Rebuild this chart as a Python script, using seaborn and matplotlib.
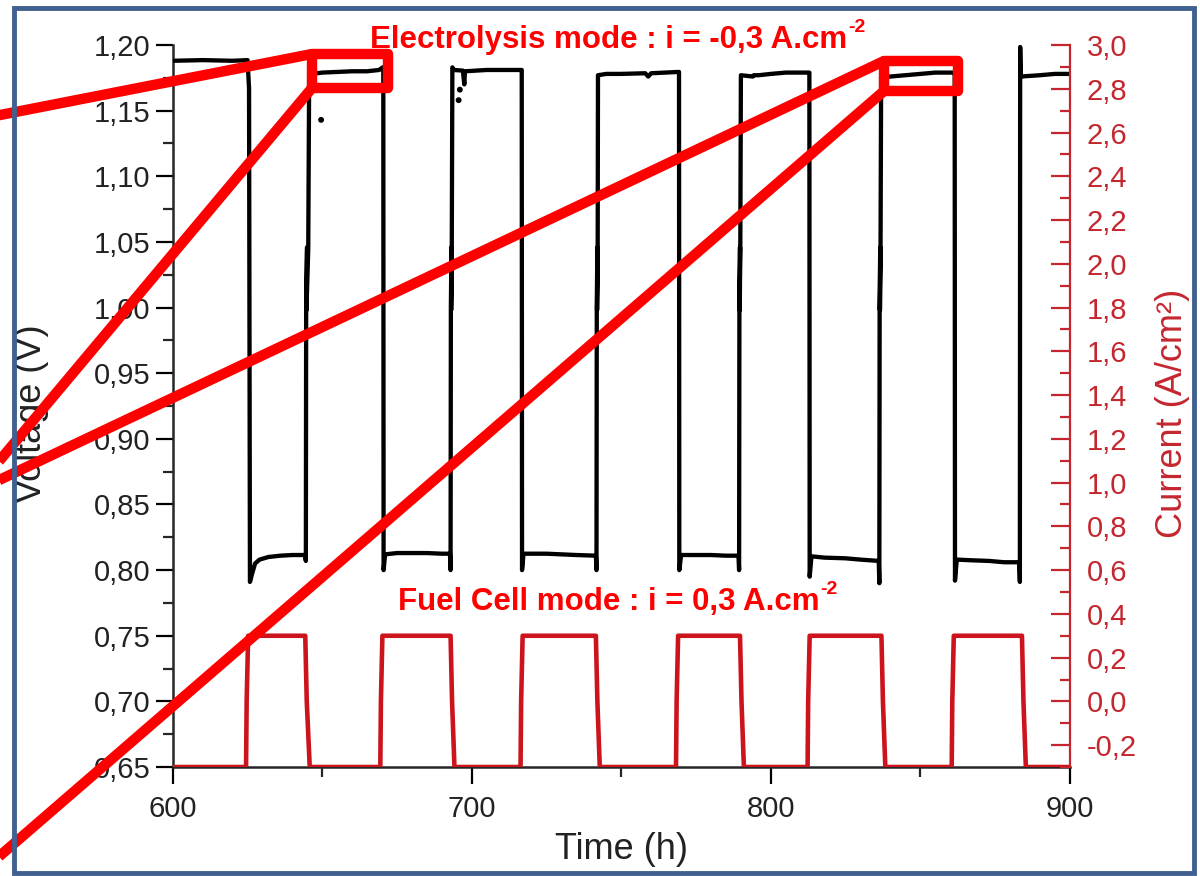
import numpy as np
import pandas as pd
import matplotlib
matplotlib.use("Agg")
import matplotlib.pyplot as plt
import seaborn as sns
from matplotlib.lines import Line2D
from matplotlib.patches import Rectangle
from matplotlib.ticker import FixedLocator, FuncFormatter

# ---------------- data ----------------
time_v = [600, 610, 620, 625.0,
          625.5, 625.8, 626.5, 627.5, 629, 632, 636, 640, 644.2, 644.5,
          644.6, 644.9, 644.7, 645.3,
          645.6, 646.5, 650, 655, 660, 665, 669, 670.2,
          670.4, 670.5, 671, 675, 680, 685, 690, 692.7, 692.9,
          693.0, 693.2, 693.1, 693.3,
          693.5, 694, 697, 697.5, 697.7, 705, 710, 716.5,
          716.7, 716.8, 717.3, 725, 735, 741.5, 741.7,
          741.8, 742.0, 741.9, 742.1,
          742.2, 745, 750, 758, 759, 760, 769.1,
          769.3, 769.4, 770, 775, 780, 785, 789.2, 789.4,
          789.5, 789.7, 789.6, 789.8,
          790, 794, 794.3, 796, 800, 805, 812.7,
          812.9, 813.0, 813.6, 818, 825, 830, 836.1, 836.3,
          836.4, 836.6, 836.5, 836.7,
          836.9, 840, 845, 850, 855, 861.3,
          861.5, 861.6, 862.2, 867, 873, 878, 883.1, 883.3,
          883.4, 883.6, 890, 895, 900]
volt = [1.188, 1.1885, 1.188, 1.1885,
        1.167, 0.791, 0.797, 0.805, 0.808, 0.810, 0.811, 0.8115, 0.8115, 0.807,
        1.000, 1.046, 0.998, 1.045,
        1.176, 1.178, 1.179, 1.1795, 1.180, 1.180, 1.181, 1.183,
        1.183, 0.800, 0.812, 0.813, 0.813, 0.813, 0.8125, 0.8125, 0.800,
        1.000, 1.046, 0.998, 1.045,
        1.183, 1.181, 1.1805, 1.170, 1.180, 1.181, 1.181, 1.181,
        1.181, 0.800, 0.8125, 0.8125, 0.8115, 0.811, 0.800,
        1.000, 1.046, 0.998, 1.045,
        1.177, 1.178, 1.178, 1.1785, 1.176, 1.1785, 1.1795,
        1.1795, 0.800, 0.8115, 0.8115, 0.8115, 0.811, 0.811, 0.800,
        1.000, 1.046, 0.998, 1.045,
        1.177, 1.176, 1.177, 1.177, 1.178, 1.179, 1.179,
        1.179, 0.795, 0.8105, 0.8095, 0.809, 0.808, 0.807, 0.790,
        1.000, 1.046, 0.998, 1.045,
        1.1755, 1.176, 1.177, 1.178, 1.179, 1.179,
        1.179, 0.792, 0.808, 0.8075, 0.807, 0.806, 0.806, 0.791,
        1.1985, 1.176, 1.177, 1.178, 1.178]

outlier_t = [649.6, 695.6, 696.0]
outlier_v = [1.143, 1.158, 1.166]

time_i = [600, 624.5, 624.7, 625.2, 644.3, 644.8, 645.8,
          669.4, 669.6, 670.1, 692.9, 693.4, 694.2,
          716.3, 716.5, 717.0, 741.5, 742.0, 742.8,
          768.3, 768.5, 769.0, 789.7, 790.2, 791.0,
          812.3, 812.5, 813.0, 837.0, 837.5, 838.3,
          860.5, 860.7, 861.2, 884.0, 884.5, 885.3, 900]
curr = [-0.3, -0.3, 0.0, 0.3, 0.3, 0.0, -0.3,
        -0.3, 0.0, 0.3, 0.3, 0.0, -0.3,
        -0.3, 0.0, 0.3, 0.3, 0.0, -0.3,
        -0.3, 0.0, 0.3, 0.3, 0.0, -0.3,
        -0.3, 0.0, 0.3, 0.3, 0.0, -0.3,
        -0.3, 0.0, 0.3, 0.3, 0.0, -0.3, -0.3]

volt_ticks = [0.65, 0.70, 0.75, 0.80, 0.85, 0.90, 0.95, 1.00, 1.05, 1.10, 1.15, 1.20]
curr_ticks = [-0.2, 0.0, 0.2, 0.4, 0.6, 0.8, 1.0, 1.2, 1.4, 1.6, 1.8, 2.0,
              2.2, 2.4, 2.6, 2.8, 3.0]
time_ticks = [600, 700, 800, 900]

title_ec = "Electrolysis mode : i = -0,3 A.cm"
title_fc = "Fuel Cell mode : i = 0,3 A.cm"
sup_txt = "-2"

# ---------------- style ----------------
sns.set_style("ticks")
plt.rcParams['font.family'] = ['Liberation Sans', 'DejaVu Sans']

RED_AX = '#c4262e'
RED_LINE = '#cc141c'
RED_ANN = '#ff0000'
FRAME = '#3f6090'

fig = plt.figure(figsize=(12, 8.76), dpi=100)
ax = fig.add_axes([0.144, 0.1244, 0.7475, 0.8242])
ax2 = ax.twinx()

dv = pd.DataFrame({'t': time_v, 'v': volt})
di = pd.DataFrame({'t': time_i, 'i': curr})

sns.lineplot(data=dv, x='t', y='v', ax=ax, color='black', lw=3.1,
             sort=False, estimator=None, zorder=3)
sns.scatterplot(x=outlier_t, y=outlier_v, ax=ax, color='black', s=18,
                edgecolor='none', zorder=3)
sns.lineplot(data=di, x='t', y='i', ax=ax2, color=RED_LINE, lw=3.3,
             sort=False, estimator=None, zorder=2)

ax.set_xlim(600, 900)
ax.set_ylim(0.65, 1.20)
ax2.set_ylim(-0.3, 3.0)

comma = FuncFormatter(lambda v, p: ("%.2f" % v).replace('.', ','))
comma1 = FuncFormatter(lambda v, p: ("%.1f" % v).replace('.', ','))

ax.yaxis.set_major_locator(FixedLocator(volt_ticks))
ax.yaxis.set_minor_locator(FixedLocator([v + 0.025 for v in volt_ticks[:-1]]))
ax.yaxis.set_major_formatter(comma)
ax.xaxis.set_major_locator(FixedLocator(time_ticks))
ax.xaxis.set_minor_locator(FixedLocator([t + 50 for t in time_ticks[:-1]]))
ax2.yaxis.set_major_locator(FixedLocator(curr_ticks))
ax2.yaxis.set_minor_locator(FixedLocator([c + 0.1 for c in [-0.4] + curr_ticks[:-1]]))
ax2.yaxis.set_major_formatter(comma1)

ax.tick_params(axis='both', which='major', direction='out', length=12, width=1.6,
               labelsize=21, colors='black', labelcolor='#222222', pad=4)
ax.tick_params(axis='both', which='minor', direction='out', length=7, width=1.6)
ax.tick_params(axis='x', which='major', pad=8)
ax2.tick_params(axis='y', which='major', direction='in', length=14, width=1.6,
                labelsize=21, colors=RED_AX, labelcolor=RED_AX, pad=12)
ax2.tick_params(axis='y', which='minor', direction='in', length=7, width=1.6,
                colors=RED_AX)

for a in (ax, ax2):
    a.spines['top'].set_visible(False)
ax.spines['right'].set_visible(False)
ax2.spines['left'].set_visible(False)
ax2.spines['bottom'].set_visible(False)
ax2.spines['right'].set_color(RED_AX)
ax2.spines['right'].set_linewidth(1.6)
ax.spines['left'].set_linewidth(1.8)
ax.spines['bottom'].set_linewidth(1.8)

ax.set_xlabel('Time (h)', fontsize=26, color='#222222')
ax.set_ylabel('Voltage (V)', fontsize=26, color='#222222')
ax2.set_ylabel('Current (A/cm²)', fontsize=26, color=RED_AX)
ax.xaxis.set_label_coords(0.5, -0.09)
ax.yaxis.set_label_coords(-0.138, 0.49)
ax2.yaxis.set_label_coords(1.095, 0.49)

# ---------------- annotations (figure pixel coords) ----------------
W, H = 1200.0, 876.0
def fx(x):
    return x / W
def fy(y):
    return 1 - y / H

fig.canvas.draw()
renderer = fig.canvas.get_renderer()
for txt, xl, yc in [(title_ec, 370, 40), (title_fc, 398, 602)]:
    t = fig.text(fx(xl), fy(yc), txt, color=RED_ANN, fontsize=22.5,
                 fontweight='bold', ha='left', va='center')
    bb = t.get_window_extent(renderer)
    fig.text(bb.x1 / W + 0.0008, fy(yc - 12), sup_txt, color=RED_ANN,
             fontsize=14, fontweight='bold', ha='left', va='center')

lw_ann = 7.5
segments = [((-5, 116), (312, 54)),
            ((312, 88), (-5, 466)),
            ((884, 61), (-5, 482)),
            ((884, 91), (-5, 860))]
for (x0, y0), (x1, y1) in segments:
    fig.add_artist(Line2D([fx(x0), fx(x1)], [fy(y0), fy(y1)], color=RED_ANN,
                          lw=lw_ann, solid_capstyle='butt', zorder=10))
for (x0, y0, x1, y1) in [(312, 54, 388, 88), (884, 61, 958, 91)]:
    fig.add_artist(Rectangle((fx(x0), fy(y1)), fx(x1) - fx(x0), fy(y0) - fy(y1),
                             transform=fig.transFigure, fill=False,
                             edgecolor=RED_ANN, lw=lw_ann, joinstyle='round',
                             zorder=10))

# outer frame
fig.add_artist(Rectangle((fx(14), fy(873)), fx(1194) - fx(14), fy(8) - fy(873),
                         transform=fig.transFigure, fill=False,
                         edgecolor=FRAME, lw=3.5, zorder=11))

fig.savefig('out.png', dpi=100)
